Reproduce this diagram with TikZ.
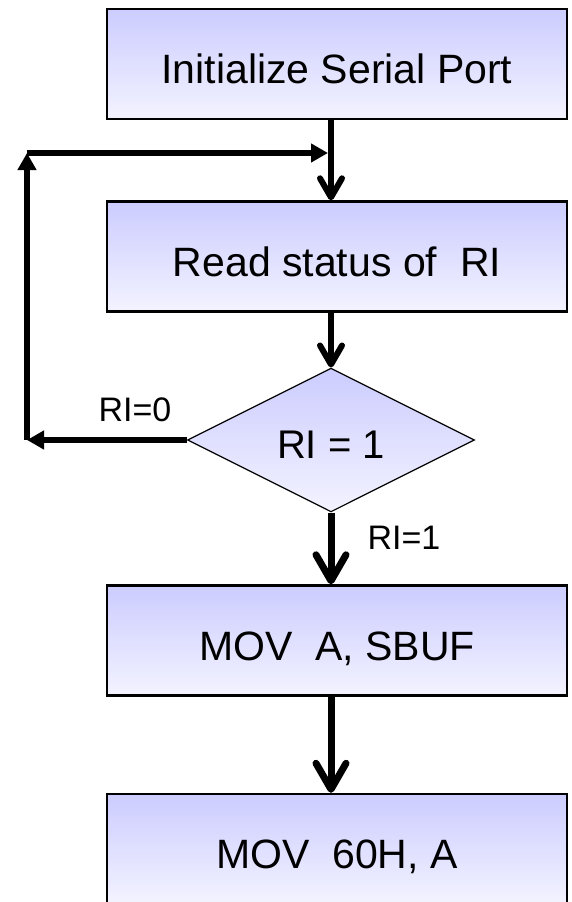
\documentclass[tikz,border=0pt]{standalone}
\usepackage{fontspec}
\setmainfont{Liberation Sans}
\usetikzlibrary{positioning,arrows.meta,calc,shapes.geometric}
\definecolor{boxTop}{HTML}{CCCCFF}
\definecolor{boxBot}{HTML}{F3F3FF}

\begin{document}
\begin{tikzpicture}[
    x=1pt, y=-1pt,
    stepbox/.style={draw=black, line width=2.4pt, top color=boxTop, bottom color=boxBot,
                    minimum width=460pt, minimum height=110pt, inner sep=0pt,
                    text height=39pt, text depth=0pt,
                    font=\fontsize{41}{48}\selectfont},
    test/.style={diamond, draw=black, line width=1.2pt, top color=boxTop, bottom color=boxBot,
                 minimum width=287pt, minimum height=127pt, inner sep=0pt,
                 text height=36pt, text depth=0pt,
                 font=\fontsize{40}{48}\selectfont},
    tag/.style={font=\fontsize{34}{40}\selectfont},
    fl/.style={-{Straight Barb[length=19pt, width=22pt, round]}, line width=6pt},
    flbig/.style={-{Straight Barb[length=26pt, width=30pt, round]}, line width=7pt},
    back/.style={-{Triangle[length=17pt, width=18pt]}, line width=6pt},
  ]
    \useasboundingbox (0,0) rectangle (571,902);

    % process boxes and the RI test
    \node[stepbox] (init) at (337,64)    {Initialize Serial Port};
    \node[stepbox] (read) at (337,256.5) {Read status of~~RI};
    \node[test]    (ri)   at (331,440)   {RI = 1};
    \node[stepbox] (movA) at (337,640.5) {MOV~~A, SBUF};
    \node[stepbox] (movB) at (337,849)   {MOV~~60H, A};

    % main flow, straight down
    \draw[fl]    (init.south -| ri.north) -- (read.north -| ri.north);
    \draw[fl]    (read.south -| ri.north) -- (ri.north);
    \draw[flbig] (ri.south) -- (movA.north -| ri.south);
    \draw[flbig] (movA.south -| ri.south) -- (movB.north -| ri.south);

    % polling loop back to the top
    \coordinate (lowL) at (27,440);
    \coordinate (topL) at (27,153);
    \coordinate (join) at (328,153);
    \draw[back] (ri.west) -- (lowL);
    \draw[back] (lowL) -- (topL);
    \draw[back] (topL) -- (join);

    % branch labels
    \node[tag] (no)  at (135,410) {RI=0};
    \node[tag] (yes) at (404,538) {RI=1};
\end{tikzpicture}
\end{document}
